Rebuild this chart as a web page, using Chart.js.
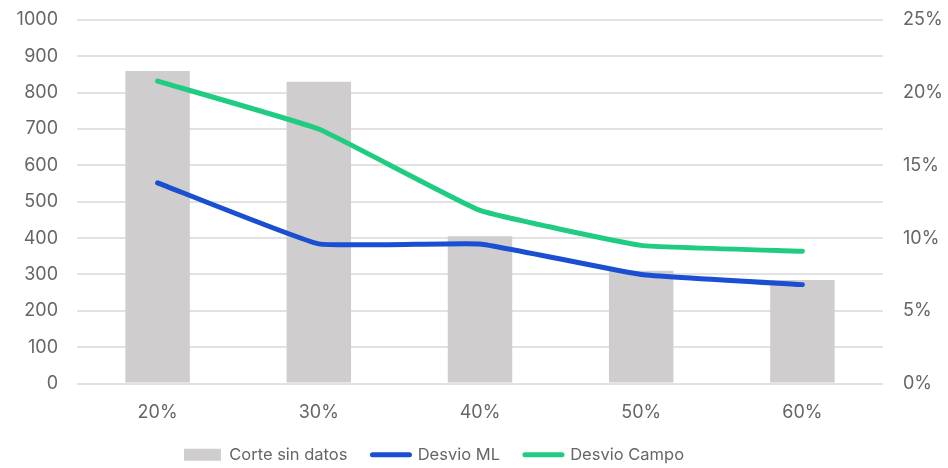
<!DOCTYPE html>
<html>
<head>
<meta charset="utf-8">
<script src="https://cdn.jsdelivr.net/npm/chart.js@4"></script>
<style>
  html, body { margin: 0; padding: 0; background: #fff; }
  #wrap { width: 948px; height: 468px; position: relative; }
</style>
</head>
<body>
<div id="wrap"><canvas id="c" width="948" height="468"></canvas></div>
<script>
// Umbral de corte (eje X)
const categories = ['20%', '30%', '40%', '50%', '60%'];
// Cantidad de registros cortados sin datos (eje izquierdo)
const corteSinDatos = [860, 830, 405, 310, 285];
// Desvíos en porcentaje (eje derecho)
const desvioML = [13.8, 9.6, 9.6, 7.5, 6.8];
const desvioCampo = [20.8, 17.5, 11.9, 9.5, 9.1];
// Marcas de los ejes
const leftTicks = [0, 100, 200, 300, 400, 500, 600, 700, 800, 900, 1000];
const rightTicks = [0, 5, 10, 15, 20, 25];

const textColor = '#666666';
const fontFamily = 'Inter, "Open Sans", sans-serif';
const tickFont = { family: fontFamily, size: 18 };

// Sin márgenes extra arriba/abajo: el área del gráfico la fija el layout
function fixedWidth(w) {
  return scale => { scale.width = w; scale.paddingTop = 0; scale.paddingBottom = 0; };
}

// Desplaza la leyenda un poco hacia la izquierda
const legendShift = {
  id: 'legendShift',
  afterLayout(chart) {
    const lg = chart.legend;
    if (lg) { lg.left -= 40; lg.right -= 40; }
  }
};

new Chart(document.getElementById('c'), {
  data: {
    labels: categories,
    datasets: [
      {
        type: 'line', label: 'Desvio ML', data: desvioML, yAxisID: 'yR',
        borderColor: '#1a4fd1', backgroundColor: '#1a4fd1', borderWidth: 5,
        pointRadius: 0, tension: 0.1, borderCapStyle: 'round', borderJoinStyle: 'round', order: 1
      },
      {
        type: 'line', label: 'Desvio Campo', data: desvioCampo, yAxisID: 'yR',
        borderColor: '#20cc82', backgroundColor: '#20cc82', borderWidth: 5,
        pointRadius: 0, tension: 0.1, borderCapStyle: 'round', borderJoinStyle: 'round', order: 2
      },
      {
        type: 'bar', label: 'Corte sin datos', data: corteSinDatos, yAxisID: 'yL',
        backgroundColor: '#cfcdce', barPercentage: 0.4, categoryPercentage: 1, order: 3
      }
    ]
  },
  plugins: [legendShift],
  options: {
    responsive: false,
    animation: false,
    layout: { padding: { top: 20, bottom: -5, left: 0, right: 0 } },
    plugins: {
      tooltip: { enabled: false },
      legend: {
        position: 'bottom',
        labels: {
          color: textColor,
          font: { family: fontFamily, size: 16.5 },
          usePointStyle: true,
          pointStyleWidth: 37,
          boxHeight: 12,
          padding: 25,
          generateLabels(chart) {
            const order = [2, 0, 1];
            return order.map(i => {
              const ds = chart.data.datasets[i];
              const isBar = ds.type === 'bar';
              return {
                text: ds.label,
                fillStyle: isBar ? ds.backgroundColor : ds.borderColor,
                strokeStyle: isBar ? ds.backgroundColor : ds.borderColor,
                lineWidth: isBar ? 0 : 5,
                lineCap: 'round',
                pointStyle: isBar ? 'rect' : 'line',
                fontColor: textColor,
                hidden: false,
                datasetIndex: i
              };
            });
          }
        }
      }
    },
    scales: {
      x: {
        offset: true,
        grid: { display: false },
        border: { display: false },
        ticks: { color: textColor, font: tickFont, padding: 10 },
        afterFit(scale) { scale.height = 38; }
      },
      yL: {
        position: 'left',
        min: 0, max: 1000,
        afterBuildTicks(scale) { scale.ticks = leftTicks.map(v => ({ value: v })); },
        ticks: { color: textColor, font: tickFont, padding: 19, callback: v => String(v) },
        grid: { color: '#e2e2e2', lineWidth: 2, drawTicks: false },
        border: { display: false },
        afterFit: fixedWidth(77)
      },
      yR: {
        position: 'right',
        min: 0, max: 25,
        afterBuildTicks(scale) { scale.ticks = rightTicks.map(v => ({ value: v })); },
        ticks: { color: textColor, font: tickFont, padding: 20, callback: v => v + '%' },
        grid: { display: false, drawTicks: false },
        border: { display: false },
        afterFit: fixedWidth(65)
      }
    }
  }
});
</script>
</body>
</html>
